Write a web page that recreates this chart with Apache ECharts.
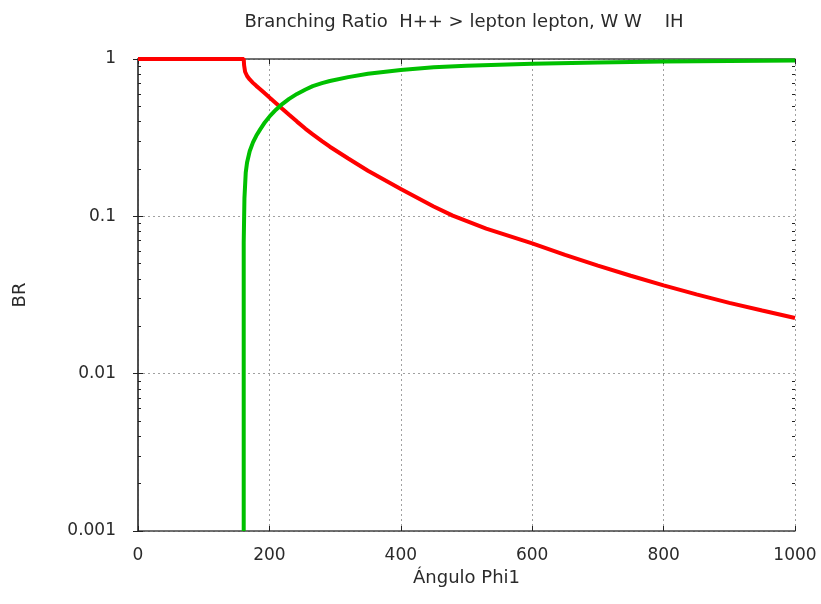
<!DOCTYPE html>
<html><head><meta charset="utf-8">
<script src="https://cdn.jsdelivr.net/npm/echarts@6/dist/echarts.min.js"></script>
<style>html,body{margin:0;padding:0;background:#fff}#c{width:821px;height:604px}</style>
</head><body><div id="c"></div>
<script>
const titleText = 'Branching Ratio  H++ > lepton lepton, W W    IH';
const xName = 'Ángulo Phi1';
const yName = 'BR';
const xTicks = [0, 200, 400, 600, 800, 1000];
const yTicks = [0.001, 0.01, 0.1, 1];
const yTickLabels = ['0.001', '0.01', '0.1', '1'];

// red curve: H++ -> lepton lepton
const redX = [0, 160.9, 161.5, 163, 166, 170, 175, 180, 186, 193, 201, 210, 220, 230, 242, 255, 266, 280, 292, 320, 350, 400, 450, 479, 530, 600, 650, 700, 750, 800, 850, 900, 950, 1000];
const redY = [1, 1, 0.912, 0.83, 0.78, 0.741, 0.705, 0.675, 0.643, 0.605, 0.565, 0.524, 0.481, 0.442, 0.40, 0.36, 0.332, 0.301, 0.277, 0.233, 0.195, 0.149, 0.1155, 0.101, 0.0835, 0.0673, 0.0569, 0.0486, 0.0419, 0.0364, 0.0319, 0.0282, 0.0252, 0.0226];
// green curve: H++ -> W W
const greenX = [160.9, 160.9, 162, 164, 166, 170, 175, 180, 186, 193, 201, 210, 220, 230, 242, 255, 266, 280, 292, 320, 350, 400, 450, 500, 600, 700, 800, 900, 1000];
const greenY = [0.001, 0.068, 0.13, 0.19, 0.22, 0.259, 0.295, 0.325, 0.357, 0.395, 0.435, 0.476, 0.519, 0.558, 0.60, 0.64, 0.672, 0.702, 0.725, 0.767, 0.805, 0.851, 0.885, 0.907, 0.933, 0.951, 0.964, 0.972, 0.977];

const FONT = 'DejaVu Sans, Liberation Sans, sans-serif';
const TXT = '#2a2a2a';
const BORDER = '#444';

const minorY = [];
for (let i = 0; i < yTicks.length - 1; i++) {
  for (let k = 2; k <= 9; k++) minorY.push(+(k * yTicks[i]).toPrecision(3));
}

const chart = echarts.init(document.getElementById('c'), null, {renderer: 'canvas'});

function yAx(pos, opts) {
  return Object.assign({
    type: 'log', logBase: 10, min: yTicks[0], max: yTicks[yTicks.length - 1], position: pos,
    axisLine: {show: false},
    axisTick: {show: false},
    axisLabel: {show: false},
    splitLine: {show: false}
  }, opts);
}

chart.setOption({
  animation: false,
  backgroundColor: '#fff',
  graphic: [{
    type: 'text', x: 464, y: 22,
    style: {text: titleText, fontSize: 18, fontFamily: FONT, fill: TXT, textAlign: 'center', textVerticalAlign: 'middle'}
  }],
  grid: {left: 138, right: 26, top: 59, bottom: 73, containLabel: false},
  xAxis: [{
    type: 'value', position: 'bottom', min: xTicks[0], max: xTicks[xTicks.length - 1], interval: 200,
    name: xName, nameLocation: 'middle', nameGap: 38,
    nameTextStyle: {fontSize: 18, fontFamily: FONT, color: TXT},
    axisLine: {show: true, lineStyle: {color: BORDER, width: 1.5}},
    axisTick: {show: true, inside: true, length: 5, lineStyle: {color: '#222', width: 1}},
    axisLabel: {margin: 16, fontSize: 17, fontFamily: FONT, color: TXT, formatter: v => String(v)},
    splitLine: {show: true, lineStyle: {color: '#a0a0a0', type: [2, 3], width: 1}}
  }, {
    type: 'value', position: 'top', min: xTicks[0], max: xTicks[xTicks.length - 1], interval: 200,
    axisLine: {show: true, lineStyle: {color: BORDER, width: 1.5}},
    axisTick: {show: true, inside: true, length: 5, lineStyle: {color: '#222', width: 1}},
    axisLabel: {show: false},
    splitLine: {show: false}
  }],
  yAxis: [
    yAx('left', {
      name: yName, nameLocation: 'middle', nameGap: 109,
      nameTextStyle: {fontSize: 18, fontFamily: FONT, color: TXT},
      axisLine: {show: true, lineStyle: {color: BORDER, width: 1.5}},
      axisTick: {show: true, inside: true, length: 5, lineStyle: {color: '#222', width: 1}},
      axisLabel: {show: true, margin: 22, fontSize: 17, fontFamily: FONT, color: TXT,
        formatter: function (v) {
          for (let i = 0; i < yTicks.length; i++) if (Math.abs(Math.log10(v) - Math.log10(yTicks[i])) < 1e-6) return yTickLabels[i];
          return '';
        }},
      splitLine: {show: true, lineStyle: {color: '#a0a0a0', type: [2, 3], width: 1}}
    }),
    yAx('right', {
      axisLine: {show: true, lineStyle: {color: BORDER, width: 1.5}},
      axisTick: {show: true, inside: true, length: 5, lineStyle: {color: '#222', width: 1}}
    }),
    yAx('left', {
      axisTick: {show: true, inside: true, length: 3, customValues: minorY, lineStyle: {color: '#222', width: 1}}
    }),
    yAx('right', {
      axisTick: {show: true, inside: true, length: 3, customValues: minorY, lineStyle: {color: '#222', width: 1}}
    })
  ],
  series: [{
    type: 'line', name: 'll', xAxisIndex: 0, yAxisIndex: 0, showSymbol: false, clip: false,
    lineStyle: {color: '#ff0000', width: 4}, itemStyle: {color: '#ff0000'},
    data: redX.map((x, i) => [x, redY[i]])
  }, {
    type: 'line', name: 'WW', xAxisIndex: 0, yAxisIndex: 0, showSymbol: false, clip: false,
    lineStyle: {color: '#00c000', width: 4}, itemStyle: {color: '#00c000'},
    data: greenX.map((x, i) => [x, greenY[i]])
  }]
});
</script>
</body></html>
